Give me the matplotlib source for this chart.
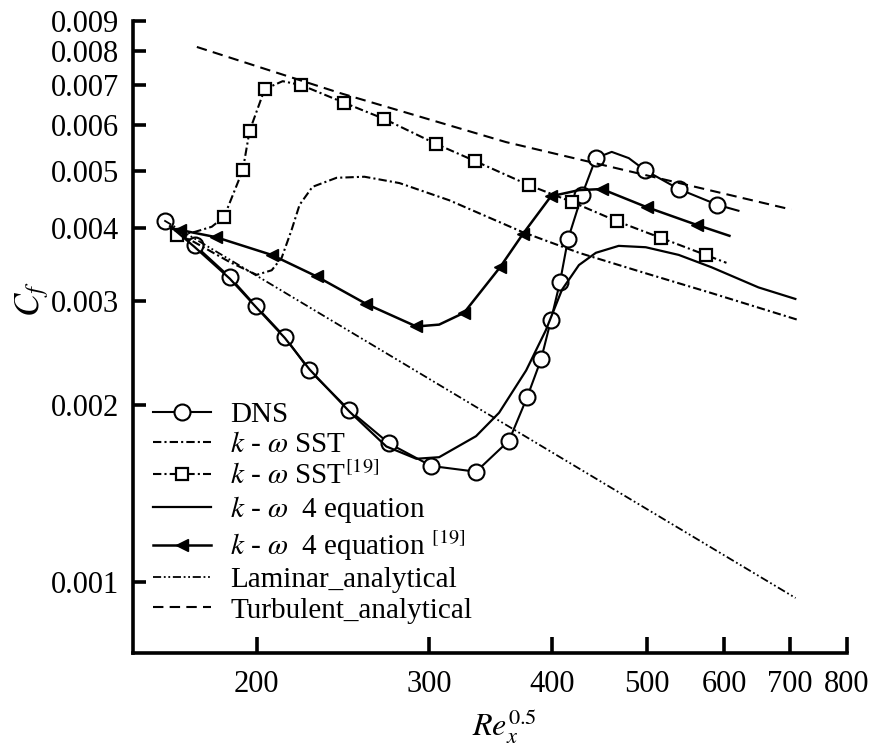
import matplotlib
matplotlib.use("Agg")
import matplotlib.pyplot as plt
from matplotlib.lines import Line2D
from matplotlib.ticker import FixedLocator, FixedFormatter, NullLocator

plt.rcParams["font.family"] = ["Liberation Serif", "DejaVu Serif"]
plt.rcParams["mathtext.fontset"] = "stix"

# DNS (markers and the curve through them)
dns_x = [161.2, 173.0, 187.8, 199.5, 213.7, 226.4, 248.6, 273.0, 301.4, 334.8,
         361.8, 377.4, 390.0, 399.2, 407.8, 415.5, 429.3, 443.6, 497.5, 538.9, 590.2]
dns_cf = [0.00411, 0.00374, 0.00330, 0.00295, 0.00261, 0.00229, 0.00196, 0.00172,
          0.001575, 0.00154, 0.00174, 0.00206, 0.00239, 0.00279, 0.00324, 0.00383,
          0.00455, 0.00526, 0.00502, 0.00466, 0.00438]
dns_line_x = [161.2, 173.0, 187.8, 199.5, 213.7, 226.4, 248.6, 273.0, 301.4, 334.8,
              361.8, 377.4, 390.0, 399.2, 407.8, 415.5, 429.3, 443.6, 460.4, 479.2,
              497.5, 538.9, 590.2, 620.0]
dns_line_cf = [0.00411, 0.00374, 0.00330, 0.00295, 0.00261, 0.00229, 0.00196, 0.00172,
               0.001575, 0.00154, 0.00174, 0.00206, 0.00239, 0.00279, 0.00324, 0.00383,
               0.00455, 0.00526, 0.00539, 0.00526, 0.00502, 0.00466, 0.00438, 0.00428]

# k-omega SST (present)
sst_x = [166.3, 175.0, 187.8, 200.0, 207.2, 212.1, 217.1, 221.2, 228.0, 241.3,
         257.6, 279.7, 314.3, 373.0, 426.3, 498.7, 582.0, 713.6]
sst_cf = [0.00392, 0.00374, 0.00350, 0.00333, 0.00339, 0.00356, 0.00397, 0.00438,
          0.00470, 0.00487, 0.00489, 0.00477, 0.00446, 0.00394, 0.00363, 0.00335,
          0.00310, 0.00279]

# k-omega SST [19]
sst19_x = [165.8, 185.3, 193.6, 196.7, 203.8, 222.2, 245.8, 270.0, 304.8, 334.0,
           379.2, 419.5, 465.8, 516.4, 574.0]
sst19_cf = [0.00389, 0.00418, 0.00502, 0.00585, 0.00689, 0.00700, 0.00653, 0.00613,
            0.00556, 0.00520, 0.00473, 0.00443, 0.00411, 0.00385, 0.00360]
sst19_line_x = [165.8, 173.0, 180.0, 185.3, 193.6, 196.7, 203.8, 212.6, 222.2, 245.8,
                270.0, 304.8, 334.0, 379.2, 419.5, 465.8, 516.4, 574.0, 602.8]
sst19_line_cf = [0.00389, 0.00394, 0.00402, 0.00418, 0.00502, 0.00585, 0.00689, 0.00711,
                 0.00700, 0.00653, 0.00613, 0.00556, 0.00520, 0.00473, 0.00443, 0.00411,
                 0.00385, 0.00360, 0.00349]

# k-omega 4 equation (present)
eq_x = [163.2, 173.0, 187.8, 199.5, 213.7, 226.4, 248.6, 271.2, 291.0, 307.0, 334.8,
        353.4, 376.6, 394.4, 409.6, 426.3, 443.6, 468.0, 498.7, 538.9, 582.0, 649.8, 708.6]
eq_cf = [0.00403, 0.00371, 0.00328, 0.00294, 0.00260, 0.00230, 0.00195, 0.00170,
         0.00162, 0.00163, 0.00177, 0.00194, 0.00229, 0.00268, 0.00314, 0.00346,
         0.00363, 0.00373, 0.00371, 0.00360, 0.00343, 0.00317, 0.00303]

# k-omega 4 equation [19]
eq19_x = [167.0, 181.7, 207.2, 230.2, 258.8, 291.0, 325.5, 354.2, 373.8, 399.2,
          449.8, 500.0, 562.0]
eq19_cf = [0.00397, 0.00386, 0.00360, 0.00331, 0.00297, 0.00272, 0.00287, 0.00343,
           0.00391, 0.00453, 0.00466, 0.00434, 0.00405]
eq19_line_x = [167.0, 181.7, 207.2, 230.2, 258.8, 291.0, 307.0, 325.5, 354.2, 373.8,
               399.2, 426.3, 449.8, 500.0, 562.0, 607.0]
eq19_line_cf = [0.00397, 0.00386, 0.00360, 0.00331, 0.00297, 0.00272, 0.00274, 0.00287,
                0.00343, 0.00391, 0.00453, 0.00464, 0.00466, 0.00434, 0.00405, 0.00388]

# analytical correlations
lam_x = [161.0, 709.0]
lam_cf = [0.00412, 0.000939]
turb_x = [173.8, 243.0, 359.3, 702.0]
turb_cf = [0.00813, 0.00679, 0.00560, 0.00430]

x_ticks = [200, 300, 400, 500, 600, 700, 800]
y_ticks = [0.001, 0.002, 0.003, 0.004, 0.005, 0.006, 0.007, 0.008, 0.009]

dashdot = (0, (4, 1.5, 1, 1.5))
dashdotdot = (0, (4.5, 1.5, 1, 1.5, 1, 1.5))

fig = plt.figure(figsize=(8.7, 7.49), dpi=100)
ax = fig.add_axes([133 / 870, 96 / 749, 714 / 870, 632 / 749])

h_dns, = ax.plot(dns_line_x, dns_line_cf, color="black", lw=1.5)
ax.plot(dns_x, dns_cf, ls="none", marker="o", ms=11.5, mfc="white", mec="black", mew=1.5)
h_sst, = ax.plot(sst_x, sst_cf, color="black", lw=1.5, ls=dashdot)
h_sst19, = ax.plot(sst19_line_x, sst19_line_cf, color="black", lw=1.5, ls=dashdot)
ax.plot(sst19_x, sst19_cf, ls="none", marker="s", ms=9, mfc="white", mec="black", mew=1.6)
h_eq, = ax.plot(eq_x, eq_cf, color="black", lw=1.6)
h_eq19, = ax.plot(eq19_line_x, eq19_line_cf, color="black", lw=1.8)
ax.plot(eq19_x, eq19_cf, ls="none", marker="<", ms=9, mfc="black", mec="black")
h_lam, = ax.plot(lam_x, lam_cf, color="black", lw=1.3, ls=dashdotdot)
h_turb, = ax.plot(turb_x, turb_cf, color="black", lw=1.5, ls=(0, (5, 3)))

# legend entries combining line style and marker
leg_dns = Line2D([], [], color="black", lw=1.5, marker="o", ms=11.5, mfc="white",
                 mec="black", mew=1.5)
leg_sst19 = Line2D([], [], color="black", lw=1.5, ls=dashdot, marker="s", ms=9,
                   mfc="white", mec="black", mew=1.6)
leg_eq19 = Line2D([], [], color="black", lw=1.8, marker="<", ms=9, mfc="black", mec="black")

ax.set_xscale("log")
ax.set_yscale("log")
ax.set_xlim(149.6, 800)
ax.set_ylim(0.000757, 0.009)

ax.xaxis.set_major_locator(FixedLocator(x_ticks))
ax.xaxis.set_major_formatter(FixedFormatter([str(t) for t in x_ticks]))
ax.xaxis.set_minor_locator(NullLocator())
ax.yaxis.set_major_locator(FixedLocator(y_ticks))
ax.yaxis.set_major_formatter(FixedFormatter([f"{t:.3f}" for t in y_ticks]))
ax.yaxis.set_minor_locator(NullLocator())

for side in ("top", "right"):
    ax.spines[side].set_visible(False)
for side in ("left", "bottom"):
    ax.spines[side].set_linewidth(2.6)
ax.tick_params(axis="x", direction="in", length=11.5, width=2.6, pad=12, labelsize=22)
ax.tick_params(axis="y", direction="in", length=9.5, width=2.6, pad=10, labelsize=22)

ax.set_xlabel(r"$Re_x^{0.5}$", fontsize=23)
ax.xaxis.set_label_coords(0.52, -0.085)
ax.set_ylabel(r"$C_f$", fontsize=25)
ax.yaxis.set_label_coords(-0.115, 0.56)

ax.legend([leg_dns, h_sst, leg_sst19, h_eq, leg_eq19, h_lam, h_turb],
          ["DNS",
           r"$k$ - $\omega$ SST",
           r"$k$ - $\omega$ SST$^{[19]}$",
           r"$k$ - $\omega$  4 equation",
           r"$k$ - $\omega$  4 equation $^{[19]}$",
           "Laminar_analytical",
           "Turbulent_analytical"],
          loc="upper left", bbox_to_anchor=(0.028, 0.398), frameon=False,
          fontsize=21, handlelength=2.0, handletextpad=0.65, labelspacing=0.13,
          borderpad=0, borderaxespad=0, numpoints=1)

fig.savefig("out.png", dpi=100)
